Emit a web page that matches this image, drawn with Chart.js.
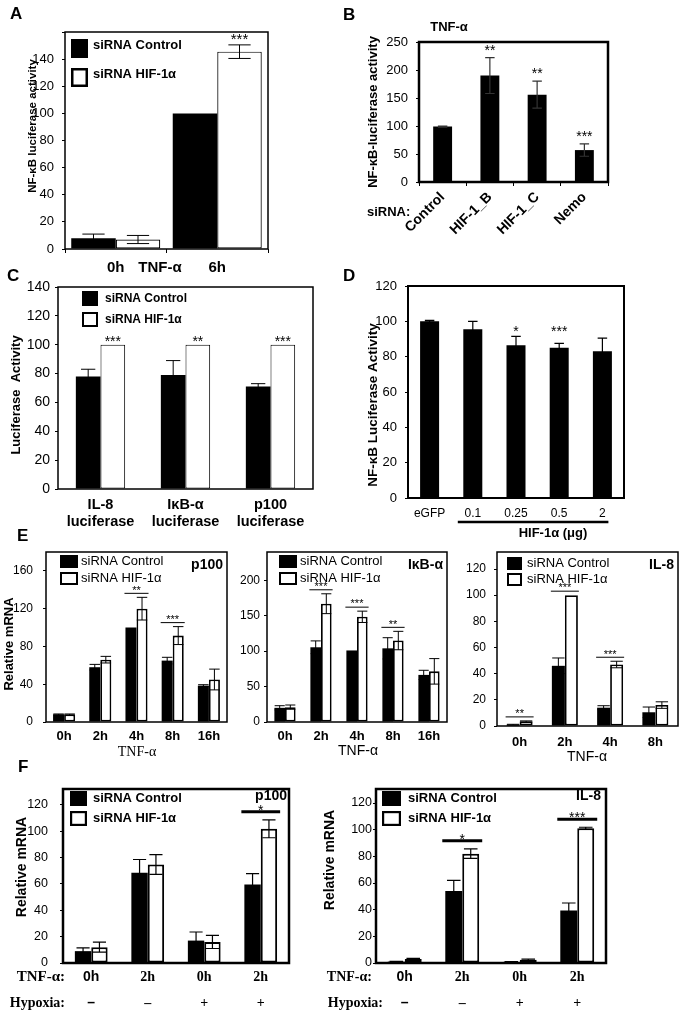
<!DOCTYPE html>
<html><head><meta charset="utf-8">
<script src="https://cdn.jsdelivr.net/npm/chart.js@4.4.0/dist/chart.umd.min.js"></script>
<style>
html,body{margin:0;padding:0;background:#fff;}
#wrap{position:relative;width:685px;height:1018px;overflow:hidden;background:#fff;}
canvas{position:absolute;left:0;top:0;}
</style></head><body><div id="wrap"></div>
<script>
// ---------------- DATA ----------------
const seriesNames = ['siRNA Control', 'siRNA HIF-1α'];

// Panel A
const aLabels = ['0h', '6h'];
const aControl = [8, 100];
const aControlErr = [3, 0];
const aHif = [7, 145.5];
const aHifErr = [3, 5];
const aStars = ['', '***'];

// Panel B
const bLabels = ['Control', 'HIF-1_B', 'HIF-1_C', 'Nemo'];
const bValues = [99, 190, 156, 57];
const bErr = [1, 32, 24, 11];
const bStars = ['', '**', '**', '***'];

// Panel C
const cLabels = [['IL-8', 'luciferase'], ['IκB-α', 'luciferase'], ['p100', 'luciferase']];
const cControl = [78, 79, 71];
const cControlErr = [5, 10, 2];
const cHif = [100, 100, 100];
const cStars = ['***', '**', '***'];

// Panel D
const dLabels = ['eGFP', '0.1', '0.25', '0.5', '2'];
const dValues = [100, 95.5, 86.5, 85, 83];
const dErr = [0.5, 4.5, 5, 2.5, 7.5];
const dStars = ['', '', '*', '***', ''];

// Panel E - p100
const e1Labels = ['0h', '2h', '4h', '8h', '16h'];
const e1Control = [8, 58, 100, 65, 38.5];
const e1ControlErr = [0.5, 3, 0, 3.5, 1];
const e1Hif = [8, 66, 120, 91.5, 45];
const e1HifErr = [0.5, 3.5, 12, 9.5, 11];
const e1Stars = ['', '', '**', '***', ''];

// Panel E - IkB-alpha
const e2Labels = ['0h', '2h', '4h', '8h', '16h'];
const e2Control = [20, 105.5, 101, 104, 66.5];
const e2ControlErr = [3, 9, 0, 15, 6.5];
const e2Hif = [21, 167, 148.5, 115, 71.5];
const e2HifErr = [3, 14, 8, 13, 18];
const e2Stars = ['', '***', '***', '**', ''];

// Panel E - IL-8
const e3Labels = ['0h', '2h', '4h', '8h'];
const e3Control = [1, 46, 14, 10.5];
const e3ControlErr = [0.3, 6, 1.5, 4];
const e3Hif = [3.5, 100, 47, 16];
const e3HifErr = [0.4, 0, 2.5, 2.5];
const e3Stars = ['**', '***', '***', ''];

// Panel F
const fLabels = [['0h', '–'], ['2h', '–'], ['0h', '+'], ['2h', '+']];
const f1Control = [9, 68.5, 17, 59.5];
const f1ControlErr = [2.5, 10, 6.5, 8.3];
const f1Hif = [12, 74.7, 16, 101.8];
const f1HifErr = [3.8, 7.5, 5, 6.8];
const f1Stars = ['', '', '', '*'];
const f2Control = [1, 54, 0.8, 39.3];
const f2ControlErr = [0.3, 8, 0.2, 5.7];
const f2Hif = [3, 82, 2.5, 101];
const f2HifErr = [0.5, 3.6, 0.5, 0.8];
const f2Stars = ['', '*', '', '***'];

// ---------------- RENDERING ----------------
const W = 685, H = 1018;
const SANS = "'Liberation Sans', Arial, Helvetica, sans-serif";
const SERIF = "'Liberation Serif', 'Times New Roman', Times, serif";
const wrap = document.getElementById('wrap');
function cf(size, weight, family) { return (weight || 'normal') + ' ' + size + 'px ' + (family || SANS); }
function ft(size, weight, family, lh) { const o = {size: size, weight: weight || 'normal', family: family || SANS}; if (lh) o.lineHeight = lh; return o; }

function makePanelPlugin(p) {
  return {
    id: 'panel',
    afterDatasetsDraw(chart) {
      const ctx = chart.ctx, ca = chart.chartArea, xs = chart.scales.x, ys = chart.scales.y;
      ctx.save();
      // error bars
      chart.data.datasets.forEach((ds, di) => {
        if (!ds.err) return;
        chart.getDatasetMeta(di).data.forEach((bar, i) => {
          const e = ds.err[i]; if (!e) return;
          const v = ds.data[i];
          const yt = ys.getPixelForValue(v + e);
          const yb = ys.getPixelForValue(Math.max(0, v - e));
          const half = bar.width * p.cap / 2;
          ctx.strokeStyle = p.errColor || '#000';
          ctx.lineWidth = p.errWidth || 1;
          ctx.beginPath();
          ctx.moveTo(bar.x, yb); ctx.lineTo(bar.x, yt);
          ctx.moveTo(bar.x - half, yt); ctx.lineTo(bar.x + half, yt);
          ctx.moveTo(bar.x - half, yb); ctx.lineTo(bar.x + half, yb);
          ctx.stroke();
        });
      });
      // significance marks
      if (p.stars) {
        const info = p.stars.map((s, i) => {
          let top = Infinity, left = Infinity, right = -Infinity, cx = null;
          chart.data.datasets.forEach((ds, di) => {
            const bar = chart.getDatasetMeta(di).data[i];
            left = Math.min(left, bar.x - bar.width / 2);
            right = Math.max(right, bar.x + bar.width / 2);
            if (p.starDs !== undefined && p.starDs !== di) return;
            if (p.starDs !== undefined) cx = bar.x;
            const v = ds.data[i] + (ds.err ? (ds.err[i] || 0) : 0);
            top = Math.min(top, ys.getPixelForValue(v));
          });
          if (cx === null) cx = (left + right) / 2;
          return {s, top, left, right, cx};
        });
        let common = Infinity;
        info.forEach(d => { if (d.s) common = Math.min(common, d.top); });
        info.forEach(d => {
          if (!d.s) return;
          const top = p.alignStars ? common : d.top;
          let cy;
          if (p.sigLine) {
            const ly = top - p.lineGap;
            ctx.strokeStyle = '#000'; ctx.lineWidth = p.lineWidth;
            ctx.beginPath(); ctx.moveTo(d.left - p.lineExt, ly); ctx.lineTo(d.right + p.lineExt, ly); ctx.stroke();
            cy = ly - p.starGap;
          } else {
            cy = top - p.starGap;
          }
          ctx.fillStyle = '#000';
          ctx.font = cf(p.starSize, p.starWeight || 'normal');
          ctx.textAlign = 'center'; ctx.textBaseline = 'alphabetic';
          ctx.fillText(d.s, d.cx, cy + p.starSize * 0.57);
        });
      }
      // bracket under categories
      if (p.bracket) {
        const g = p.bracket;
        ctx.strokeStyle = '#000'; ctx.lineWidth = g.w;
        ctx.beginPath();
        ctx.moveTo(xs.getPixelForValue(g.from) - g.padL, g.y);
        ctx.lineTo(xs.getPixelForValue(g.to) + g.padR, g.y);
        ctx.stroke();
      }
      // frame
      ctx.strokeStyle = '#000'; ctx.lineWidth = p.frame;
      ctx.strokeRect(ca.left, ca.top, ca.right - ca.left, ca.bottom - ca.top);
      // legend
      if (p.legend) {
        const g = p.legend;
        chart.data.datasets.forEach((ds, k) => {
          const bx = ca.left + g.x, by = ca.top + g.y + k * g.dy;
          if (k === 0) {
            ctx.fillStyle = '#000'; ctx.fillRect(bx, by, g.w, g.h);
          } else {
            ctx.fillStyle = '#fff'; ctx.fillRect(bx, by, g.w, g.h);
            ctx.strokeStyle = '#000'; ctx.lineWidth = g.bw;
            ctx.strokeRect(bx + g.bw / 2, by + g.bw / 2, g.w - g.bw, g.h - g.bw);
          }
          ctx.fillStyle = '#000'; ctx.font = g.font;
          ctx.textAlign = 'left'; ctx.textBaseline = 'middle';
          ctx.fillText(ds.label, ca.left + g.tx, by + g.h / 2 + (g.tdy || 0));
        });
      }
      ctx.restore();
    },
    afterDraw(chart) {
      const ctx = chart.ctx;
      (p.texts || []).forEach(t => {
        ctx.save();
        ctx.fillStyle = '#000'; ctx.font = t.font;
        ctx.textAlign = t.align || 'center'; ctx.textBaseline = 'middle';
        if (t.rot) { ctx.translate(t.x, t.y); ctx.rotate(-Math.PI / 2); ctx.fillText(t.t, 0, 0); }
        else ctx.fillText(t.t, t.x, t.y);
        ctx.restore();
      });
    }
  };
}

function build(spec) {
  const cv = document.createElement('canvas');
  cv.width = W; cv.height = H; wrap.appendChild(cv);
  const b = spec.box, yW = 40, xH = Math.min(75, H - b.B);
  const datasets = spec.series.map((s, k) => ({
    label: s.label, data: s.data, err: s.err,
    backgroundColor: k === 0 ? '#000' : '#fff',
    borderColor: '#000', borderWidth: k === 0 ? 0 : spec.bw, borderSkipped: false,
    categoryPercentage: spec.catPct, barPercentage: spec.barPct || 1
  }));
  new Chart(cv, {
    type: 'bar',
    data: {labels: spec.labels, datasets},
    options: {
      responsive: false, animation: false, devicePixelRatio: 1, events: [],
      layout: {padding: {left: b.L - yW, top: b.T, right: W - b.R, bottom: H - b.B - xH}},
      plugins: {legend: {display: false}, tooltip: {enabled: false}},
      scales: {
        x: {
          afterFit: s => { s.height = xH; },
          border: {display: false},
          grid: {display: !!spec.xTicks, offset: true, drawOnChartArea: false, drawTicks: !!spec.xTicks, tickLength: 4, color: '#000', lineWidth: 1},
          ticks: {autoSkip: false, maxRotation: spec.xRot || 0, minRotation: spec.xRot || 0, color: '#000', font: spec.xFont, padding: spec.xPad}
        },
        y: {
          min: 0, max: spec.yMax,
          afterFit: s => { s.width = yW; },
          border: {display: false},
          grid: {display: true, drawOnChartArea: false, drawTicks: true, tickLength: 3, color: '#000', lineWidth: 1},
          ticks: {stepSize: spec.yStep, includeBounds: false, color: '#000', font: spec.yFont, padding: spec.yPad,
                  callback: v => (v <= spec.yLabelMax ? String(v) : '')}
        }
      }
    },
    plugins: [makePanelPlugin(spec.panel)]
  });
}

Chart.defaults.font.family = SANS;
Chart.defaults.color = '#000';

// ---- A ----
build({
  box: {L: 65, T: 32, R: 268, B: 249},
  labels: aLabels,
  series: [{label: seriesNames[0], data: aControl, err: aControlErr}, {label: seriesNames[1], data: aHif, err: aHifErr}],
  catPct: 0.877, bw: 1.2,
  yMax: 160, yStep: 20, yLabelMax: 140, yFont: ft(13), yPad: 8,
  xFont: ft(15, 'bold'), xPad: 6, xTicks: true,
  panel: {frame: 1.5, cap: 0.5, errWidth: 1, stars: aStars, starDs: 1, starGap: 9, starSize: 15,
    legend: {x: 6, y: 7, w: 17, h: 19, dy: 29, tx: 28, font: cf(13, 'bold'), bw: 2.5, tdy: -3},
    texts: [
      {t: 'A', x: 10, y: 14, font: cf(17, 'bold'), align: 'left'},
      {t: 'NF-κB luciferase activity', x: 33, y: 126, font: cf(11.5, 'bold'), rot: true},
      {t: 'TNF-α', x: 160, y: 268, font: cf(15, 'bold')}
    ]}
});

// ---- B ----
build({
  box: {L: 419, T: 42, R: 608, B: 182},
  labels: bLabels,
  series: [{label: 'TNF-α', data: bValues, err: bErr}],
  catPct: 1, barPct: 0.4, bw: 0,
  yMax: 250, yStep: 50, yLabelMax: 250, yFont: ft(13), yPad: 8,
  xFont: ft(14, 'bold'), xPad: 3, xTicks: true, xRot: 45,
  panel: {frame: 2.5, cap: 0.5, errWidth: 1.2, errColor: '#333', stars: bStars, starDs: 0, starGap: 11, starSize: 14,
    texts: [
      {t: 'B', x: 343, y: 15, font: cf(17, 'bold'), align: 'left'},
      {t: 'TNF-α', x: 449, y: 27, font: cf(13, 'bold')},
      {t: 'siRNA:', x: 367, y: 212, font: cf(13, 'bold'), align: 'left'},
      {t: 'NF-κB-luciferase activity', x: 373, y: 112, font: cf(13, 'bold'), rot: true}
    ]}
});

// ---- C ----
build({
  box: {L: 58, T: 287, R: 313, B: 489},
  labels: cLabels,
  series: [{label: seriesNames[0], data: cControl, err: cControlErr}, {label: seriesNames[1], data: cHif}],
  catPct: 0.58, bw: 1,
  yMax: 140, yStep: 20, yLabelMax: 140, yFont: ft(14), yPad: 5,
  xFont: ft(14.5, 'bold'), xPad: 7,
  panel: {frame: 1.5, cap: 0.58, errWidth: 1, stars: cStars, starDs: 1, starGap: 7, starSize: 14,
    legend: {x: 24, y: 4, w: 16, h: 15, dy: 21, tx: 47, font: cf(12, 'bold'), bw: 2},
    texts: [
      {t: 'C', x: 7, y: 276, font: cf(17, 'bold'), align: 'left'},
      {t: 'Luciferase  Activity', x: 16, y: 395, font: cf(13, 'bold'), rot: true}
    ]}
});

// ---- D ----
build({
  box: {L: 408, T: 286, R: 624, B: 498},
  labels: dLabels,
  series: [{label: 'HIF-1α', data: dValues, err: dErr}],
  catPct: 1, barPct: 0.44, bw: 0,
  yMax: 120, yStep: 20, yLabelMax: 120, yFont: ft(13), yPad: 8,
  xFont: ft(12), xPad: 8,
  panel: {frame: 2, cap: 0.5, errWidth: 1.2, stars: dStars, starDs: 0, starGap: 8, alignStars: true, starSize: 14,
    bracket: {from: 1, to: 4, padL: 15, padR: 6, y: 522, w: 2.5},
    texts: [
      {t: 'D', x: 343, y: 276, font: cf(17, 'bold'), align: 'left'},
      {t: 'NF-κB Luciferase Activity', x: 373, y: 405, font: cf(13.5, 'bold'), rot: true},
      {t: 'HIF-1α (μg)', x: 553, y: 533, font: cf(13, 'bold')}
    ]}
});

// ---- E p100 ----
build({
  box: {L: 46, T: 552, R: 227, B: 722},
  labels: e1Labels,
  series: [{label: seriesNames[0], data: e1Control, err: e1ControlErr}, {label: seriesNames[1], data: e1Hif, err: e1HifErr}],
  catPct: 0.61, bw: 1.8,
  yMax: 180, yStep: 40, yLabelMax: 160, yFont: ft(12), yPad: 10,
  xFont: ft(13, 'bold'), xPad: 7,
  panel: {frame: 1.5, cap: 0.95, errWidth: 1, stars: e1Stars, sigLine: true, lineGap: 4, lineWidth: 1, lineExt: 1, starGap: 6, starSize: 11,
    legend: {x: 14, y: 3, w: 18, h: 13, dy: 17, tx: 35, font: cf(13), bw: 2},
    texts: [
      {t: 'E', x: 17, y: 536, font: cf(17, 'bold'), align: 'left'},
      {t: 'Relative mRNA', x: 9, y: 644, font: cf(13, 'bold'), rot: true},
      {t: 'p100', x: 223, y: 565, font: cf(14, 'bold'), align: 'right'},
      {t: 'TNF-α', x: 137, y: 752, font: cf(14, 'normal', SERIF)}
    ]}
});

// ---- E IkB-alpha ----
build({
  box: {L: 267, T: 552, R: 447, B: 722},
  labels: e2Labels,
  series: [{label: seriesNames[0], data: e2Control, err: e2ControlErr}, {label: seriesNames[1], data: e2Hif, err: e2HifErr}],
  catPct: 0.59, bw: 1.8,
  yMax: 240, yStep: 50, yLabelMax: 200, yFont: ft(12), yPad: 4,
  xFont: ft(13, 'bold'), xPad: 7,
  panel: {frame: 1.5, cap: 0.95, errWidth: 1, stars: e2Stars, sigLine: true, lineGap: 4, lineWidth: 1, lineExt: 1, starGap: 6, starSize: 11,
    legend: {x: 12, y: 3, w: 18, h: 13, dy: 17, tx: 33, font: cf(13), bw: 2},
    texts: [
      {t: 'IκB-α', x: 443, y: 565, font: cf(14, 'bold'), align: 'right'},
      {t: 'TNF-α', x: 358, y: 751, font: cf(14)}
    ]}
});

// ---- E IL-8 ----
build({
  box: {L: 497, T: 552, R: 678, B: 726},
  labels: e3Labels,
  series: [{label: seriesNames[0], data: e3Control, err: e3ControlErr}, {label: seriesNames[1], data: e3Hif, err: e3HifErr}],
  catPct: 0.575, bw: 1.8,
  yMax: 133, yStep: 20, yLabelMax: 120, yFont: ft(12), yPad: 8,
  xFont: ft(13, 'bold'), xPad: 9,
  panel: {frame: 1.5, cap: 0.95, errWidth: 1, stars: e3Stars, sigLine: true, lineGap: 4, lineWidth: 1, lineExt: 1, starGap: 6, starSize: 11,
    legend: {x: 10, y: 5, w: 15, h: 13, dy: 16, tx: 30, font: cf(13), bw: 2},
    texts: [
      {t: 'IL-8', x: 674, y: 565, font: cf(14, 'bold'), align: 'right'},
      {t: 'TNF-α', x: 587, y: 757, font: cf(14)}
    ]}
});

// ---- F p100 ----
const fTickFont = ctx => ft(14, 'bold', ctx.index === 0 ? SANS : SERIF, 26 / 14);
build({
  box: {L: 63, T: 789, R: 289, B: 963},
  labels: fLabels,
  series: [{label: seriesNames[0], data: f1Control, err: f1ControlErr}, {label: seriesNames[1], data: f1Hif, err: f1HifErr}],
  catPct: 0.58, bw: 2,
  yMax: 132, yStep: 20, yLabelMax: 120, yFont: ft(12.5), yPad: 12,
  xFont: fTickFont, xPad: 1,
  panel: {frame: 2.5, cap: 0.8, errWidth: 1.2, stars: f1Stars, sigLine: true, lineGap: 8, lineWidth: 3, lineExt: 3, starGap: 5, starSize: 14,
    legend: {x: 7, y: 2, w: 17, h: 15, dy: 20, tx: 30, font: cf(13, 'bold'), bw: 2.2},
    texts: [
      {t: 'F', x: 18, y: 767, font: cf(17, 'bold'), align: 'left'},
      {t: 'Relative mRNA', x: 22, y: 867, font: cf(14, 'bold'), rot: true},
      {t: 'p100', x: 287, y: 796, font: cf(14, 'bold'), align: 'right'},
      {t: 'TNF-α:', x: 65, y: 977, font: cf(15, 'bold', SERIF), align: 'right'},
      {t: 'Hypoxia:', x: 65, y: 1003, font: cf(14, 'bold', SERIF), align: 'right'}
    ]}
});

// ---- F IL-8 ----
build({
  box: {L: 376, T: 789, R: 606, B: 963},
  labels: fLabels,
  series: [{label: seriesNames[0], data: f2Control, err: f2ControlErr}, {label: seriesNames[1], data: f2Hif, err: f2HifErr}],
  catPct: 0.59, bw: 2,
  yMax: 130.5, yStep: 20, yLabelMax: 120, yFont: ft(12.5), yPad: 1,
  xFont: fTickFont, xPad: 1,
  panel: {frame: 2.5, cap: 0.8, errWidth: 1.2, stars: f2Stars, sigLine: true, lineGap: 8, lineWidth: 3, lineExt: 3, starGap: 5, starSize: 14,
    legend: {x: 6, y: 2, w: 19, h: 15, dy: 20, tx: 32, font: cf(13, 'bold'), bw: 2.2},
    texts: [
      {t: 'Relative mRNA', x: 330, y: 860, font: cf(14, 'bold'), rot: true},
      {t: 'IL-8', x: 601, y: 796, font: cf(14, 'bold'), align: 'right'},
      {t: 'TNF-α:', x: 372, y: 977, font: cf(14, 'bold', SERIF), align: 'right'},
      {t: 'Hypoxia:', x: 383, y: 1003, font: cf(14, 'bold', SERIF), align: 'right'}
    ]}
});
</script>
</body></html>
